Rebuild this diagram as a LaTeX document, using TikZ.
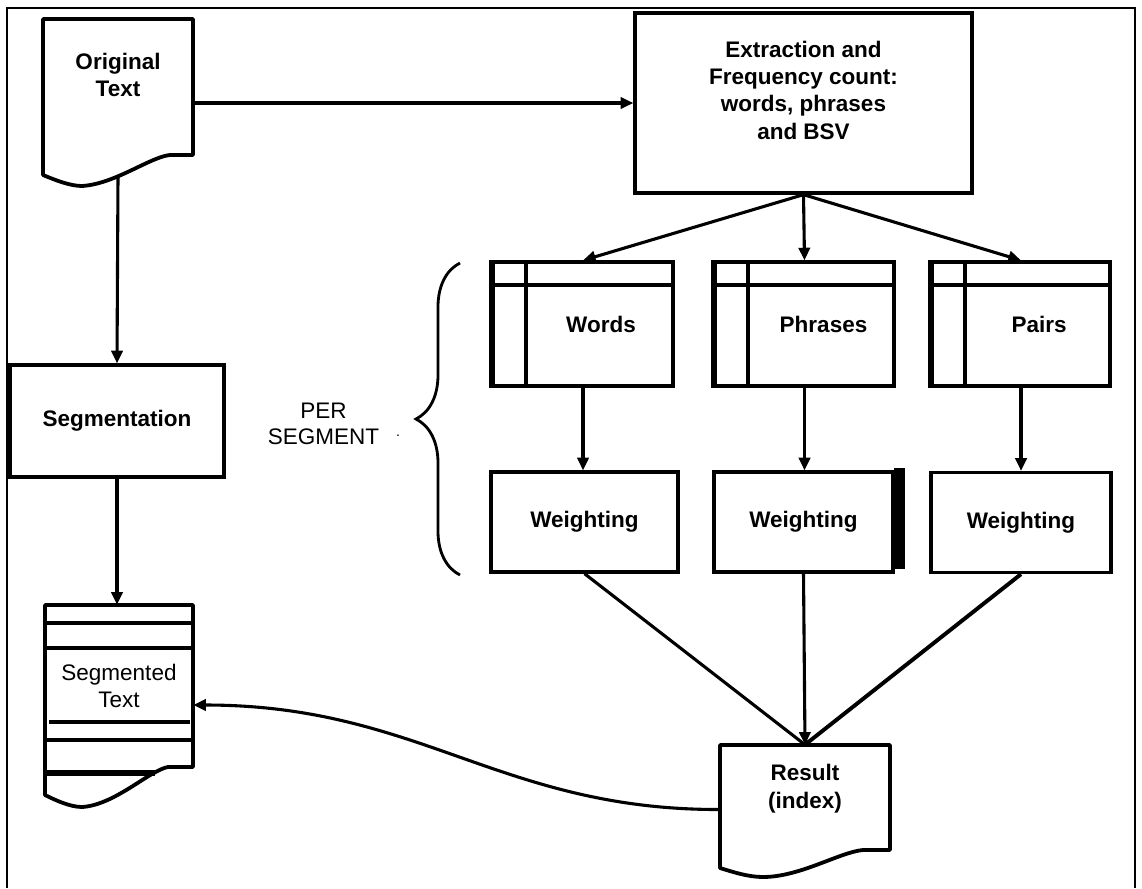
\documentclass[tikz,border=0pt]{standalone}
\usepackage{fontspec}
\setmainfont{Liberation Sans}
\usetikzlibrary{positioning,calc}
\usetikzlibrary{arrows.meta,decorations.pathreplacing}
\tikzset{
  box/.style={draw=black,line width=2.3pt,fill=white,align=center,inner sep=0pt,
    font=\bfseries\fontsize{16}{19.5}\selectfont},
  doc/.style={draw=none,align=center,inner sep=0pt,font=\bfseries\fontsize{16}{19.5}\selectfont},
  docline/.style={draw=black,line width=2.7pt,line join=round},
  arr/.style={draw=black,line width=2.2pt,-{Triangle[length=9pt,width=8pt]}},
  link/.style={draw=black,line width=2.2pt},
}
\tikzset{tbl/.style={box,minimum height=3.1cm},wgt/.style={box,minimum height=2.5cm},
  rule/.style={line width=3pt},frame/.style={line width=1.4pt}}

\begin{document}
\begin{tikzpicture}[x=0.025cm,y=-0.025cm]
\useasboundingbox (0,0) rectangle (1142,888);
\draw[frame] (7,888) -- (7,8) -- (1135,8) -- (1135,888);
% documents
\node[doc,minimum width=3.75cm,minimum height=3.4cm,text depth=0.6cm] (orig) at (118,87) {Original\\Text};
\draw[docline] (43,19) -- (193,19) -- (193,155) -- (170,155) .. controls (150,157) and (115,184) .. (82,186)
  .. controls (70,186) and (55,180) .. (43,175) -- cycle;
\node[doc,minimum width=3.7cm,minimum height=4.05cm,font=\fontsize{16}{19.5}\selectfont] (segt) at (119,686) {Segmented\\Text};
\draw[docline] (45,605) -- (193,605) -- (193,767) -- (168,767) .. controls (150,770) and (115,805) .. (82,807)
  .. controls (70,807) and (55,800) .. (45,795) -- cycle;
\draw[rule] (45,623) -- (193,623);
\draw[rule] (45,648) -- (193,648);
\draw[rule] (49,722) -- (190,722);
\draw[rule] (45,740) -- (193,740);
\draw[line width=4pt] (45,773) -- (155,773);
\node[doc,minimum width=4.25cm,minimum height=2.625cm,text depth=0.55cm] (res) at (805,797.5) {Result\\(index)};
\draw[docline] (720,745) -- (890,745) -- (890,850) -- (863,850) .. controls (840,852) and (800,877) .. (763,877)
  .. controls (748,877) and (733,872) .. (720,868) -- cycle;
% boxes
\node[box,minimum width=8.425cm,minimum height=4.5cm,text depth=0.65cm] (ext) at (803.5,103)
  {Extraction and\\Frequency count:\\words, phrases\\and BSV};
\node[box,minimum width=5.35cm,minimum height=2.8cm] (seg) at (117,421) {Segmentation};
% tables
\node[tbl,minimum width=4.5cm] (words) at (583,324) {\hspace*{0.9cm}Words};
\node[tbl,minimum width=4.475cm] (phr) at (804.5,324) {\hspace*{0.95cm}Phrases};
\node[tbl,minimum width=4.45cm] (pairs) at (1021,324) {\hspace*{0.9cm}Pairs};
\foreach \t in {words,phr,pairs}{
  \draw[rule] ($(\t.north west)+(0,25)$) -- ($(\t.north east)+(0,25)$);
  \draw[rule] ($(\t.north west)+(35,0)$) -- ($(\t.south west)+(35,0)$);
  \draw[line width=3.6pt] (\t.north west) -- (\t.south west);
}
\node[wgt,minimum width=4.675cm] (wW) at (584.5,522) {Weighting};
\node[wgt,minimum width=4.475cm] (wPh) at (803.5,522) {Weighting};
\node[wgt,minimum width=4.5cm] (wPa) at (1021,522.5) {Weighting};
\fill ($(wPh.north east)+(-1,-2)$) rectangle ($(wPh.south east)+(10,-5)$);
% brace
\draw[line width=2pt,decorate,decoration={brace,amplitude=1.1cm}] (460,575) -- (460,263);
\node[font=\fontsize{16}{18}\selectfont,align=center,inner sep=0pt] (perseg) at (323.5,424) {PER\\SEGMENT};
\node[font=\fontsize{10}{10}\selectfont,inner sep=0pt] (segdot) at (398,436) {.};
% connectors
\draw[arr] (orig.east |- ext.west) -- (ext.west);
\draw[arr] ($(orig.south)+(0,21)$) -- (seg.north);
\draw[arr] (seg.south) -- (seg.south |- segt.north);
\draw[arr] (ext.south) -- (words.north);
\draw[arr] (ext.south) -- (phr.north);
\draw[arr] (ext.south) -- (pairs.north);
\draw[arr] (words.south) -- (words.south |- wW.north);
\draw[arr] (phr.south) -- (phr.south |- wPh.north);
\draw[arr] (pairs.south) -- (pairs.south |- wPa.north);
\draw[link] (wW.south) -- (res.north);
\draw[arr] (wPh.south) -- (res.north);
\draw[link,line width=2.8pt] (wPa.south) -- (res.north);
\draw[arr] ($(res.west)+(0,12)$) .. controls (500,810) and (420,705) .. ($(segt.east)+(0,19)$);
\end{tikzpicture}
\end{document}
